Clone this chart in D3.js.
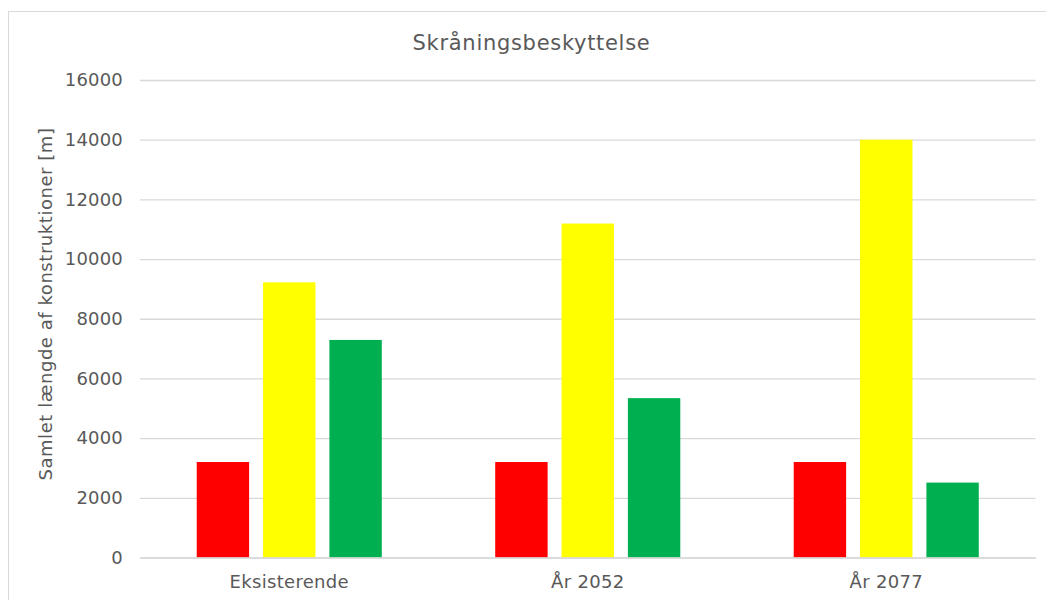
<!DOCTYPE html>
<html><head><meta charset="utf-8">
<script src="https://cdn.jsdelivr.net/npm/d3@7"></script>
<style>
html,body{margin:0;padding:0;background:#fff;}
svg{display:block;font-family:"DejaVu Sans",Verdana,sans-serif;}
</style></head>
<body><svg id="c" width="1046" height="600"></svg>
<script>
const title = "Skråningsbeskyttelse";
const yAxisTitle = "Samlet længde af konstruktioner [m]";
const categories = ["Eksisterende", "År 2052", "År 2077"];
const seriesNames = ["Rød", "Gul", "Grøn"];
const seriesColors = ["#ff0000", "#ffff00", "#00b050"];
const redValues = [3200, 3200, 3200];
const yellowValues = [9220, 11190, 14000];
const greenValues = [7290, 5340, 2510];
const yTicks = [0, 2000, 4000, 6000, 8000, 10000, 12000, 14000, 16000];

const seriesValues = [redValues, yellowValues, greenValues];
const svg = d3.select("#c");
const m = {left: 140, right: 1035.5, top: 80, bottom: 557.5};

// chart border
svg.append("rect").attr("x", 8.5).attr("y", 11.5).attr("width", 1100).attr("height", 700)
  .attr("fill", "#fff").attr("stroke", "#d9d9d9").attr("stroke-width", 1);

const y = d3.scaleLinear().domain([0, 16000]).range([m.bottom, m.top]);
const x0 = d3.scaleBand().domain(categories).range([m.left, m.right]).paddingInner(0.38).paddingOuter(0.19);
const x1 = d3.scaleBand().domain(seriesNames).range([0, x0.bandwidth()]).paddingInner(0.21).paddingOuter(0);

// gridlines
const yAxis = d3.axisLeft(y).tickValues(yTicks).tickSize(-(m.right - m.left)).tickPadding(17).tickFormat(d3.format("d"));
const ga = svg.append("g").attr("transform", `translate(${m.left},0)`).call(yAxis);
ga.select(".domain").remove();
ga.selectAll(".tick line").attr("stroke", "#d9d9d9").attr("stroke-width", 1.3);
ga.selectAll(".tick text").attr("fill", "#595959").style("font-size", "18px").style("letter-spacing", "0.2px")
  .attr("font-family", "DejaVu Sans, Verdana, sans-serif");

// bars
const groups = svg.append("g").selectAll("g").data(categories).join("g")
  .attr("transform", d => `translate(${x0(d)},0)`);
groups.selectAll("rect").data((c, ci) => seriesNames.map((s, si) => ({s, si, v: seriesValues[si][ci]})))
  .join("rect")
  .attr("x", d => x1(d.s)).attr("width", x1.bandwidth())
  .attr("y", d => y(d.v)).attr("height", d => y(0) - y(d.v))
  .attr("fill", d => seriesColors[d.si]);

// x axis
const xAxis = d3.axisBottom(x0).tickSize(0).tickPadding(18);
const gx = svg.append("g").attr("transform", `translate(0,${m.bottom})`).call(xAxis);
gx.select(".domain").attr("stroke", "#d9d9d9").attr("stroke-width", 1.3);
gx.selectAll(".tick text").attr("fill", "#595959").style("font-size", "18px").style("letter-spacing", "0.3px")
  .attr("font-family", "DejaVu Sans, Verdana, sans-serif");

// title
svg.append("text").attr("x", 531.5).attr("y", 50).attr("text-anchor", "middle")
  .attr("fill", "#595959").style("font-size", "21px").style("letter-spacing", "0.7px").text(title);

// y axis title
svg.append("text").attr("transform", "translate(52,304) rotate(-90)").attr("text-anchor", "middle")
  .attr("fill", "#595959").style("font-size", "18px").style("letter-spacing", "0.55px").text(yAxisTitle);
</script></body></html>
